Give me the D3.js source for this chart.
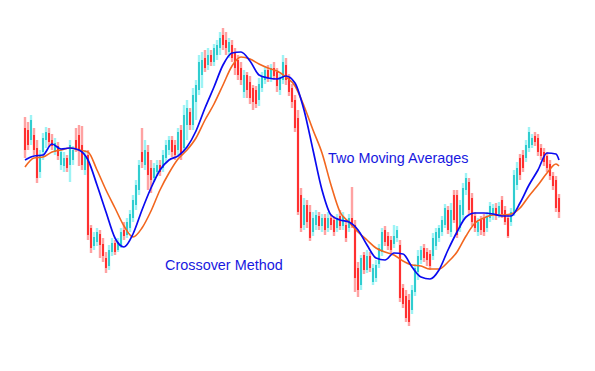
<!DOCTYPE html>
<html>
<head>
<meta charset="utf-8">
<script src="https://cdn.jsdelivr.net/npm/d3@7"></script>
<style>
  html, body { margin: 0; padding: 0; background: #ffffff; }
  svg { display: block; }
</style>
</head>
<body>
<svg id="chart" width="595" height="371"></svg>
<script>
// ---- Candle data (arbitrary price units), one candle per bar ----
const opens = [222,220,210,215,202,178,198,210,217,210,198,204,185,184,192,185,190,210,215,205,180,195,122,104,108,116,106,92,84,98,107,100,105,120,115,122,132,145,160,198,185,198,182,172,178,185,182,192,200,210,205,200,220,202,225,238,225,248,260,275,292,285,295,288,295,302,315,310,298,305,298,290,282,258,275,268,262,260,250,262,270,280,272,282,278,260,270,285,272,262,250,232,155,125,145,138,118,125,134,124,132,122,132,130,122,134,124,125,122,132,125,82,65,95,80,94,68,72,86,98,120,114,110,106,112,105,62,54,50,40,58,78,90,102,98,96,94,104,112,118,125,140,118,155,155,122,135,160,168,152,134,118,130,132,122,132,135,142,136,150,140,132,128,138,165,192,195,192,202,205,214,212,202,198,194,186,174,170,152];
const highs = [233,228,235,222,210,200,217,223,222,216,212,208,202,198,195,210,204,222,225,224,200,200,125,118,122,120,112,98,105,112,110,112,122,128,132,140,155,170,190,222,210,205,190,187,190,190,200,210,214,214,210,222,225,245,250,242,262,270,295,298,300,302,300,306,310,318,322,318,312,310,302,295,288,280,278,274,265,264,272,278,284,285,286,288,282,276,295,292,276,266,255,240,162,152,150,145,138,140,138,136,136,138,136,134,136,140,138,130,136,163,130,88,95,98,100,98,86,90,106,122,124,118,114,125,124,110,66,60,56,65,86,100,104,106,102,100,117,122,125,134,146,144,147,160,160,150,167,177,172,157,138,132,134,136,138,148,146,147,148,154,144,136,142,180,188,196,200,210,223,216,218,216,206,202,198,190,178,174,156];
const lows = [192,200,205,195,167,172,190,202,203,200,195,190,180,178,178,168,185,198,184,180,175,110,97,100,104,92,88,77,80,94,95,98,102,110,112,118,128,140,155,182,180,160,157,168,174,174,178,188,195,193,190,195,190,198,210,220,220,230,255,262,278,280,284,284,290,295,300,295,292,288,275,270,265,252,252,246,240,242,244,258,266,268,268,270,258,255,266,265,254,242,218,135,118,120,122,109,114,120,120,118,115,118,120,114,118,120,120,108,118,122,58,53,60,76,77,78,65,68,82,94,104,100,96,102,108,48,42,28,24,36,54,70,86,88,84,80,90,100,108,114,122,116,113,127,112,118,130,155,136,124,118,114,115,114,118,128,130,130,132,132,125,112,124,134,160,170,178,188,198,202,204,194,190,184,178,170,160,138,132];
const closes = [200,205,230,200,172,195,212,218,208,204,207,194,198,192,182,205,200,202,200,185,195,115,102,113,118,105,94,82,100,107,98,108,118,114,128,136,150,165,185,188,200,175,170,182,185,178,195,205,210,198,195,218,195,235,242,225,255,265,288,290,282,295,288,302,305,312,305,302,308,292,282,275,270,275,260,252,248,246,266,274,280,272,282,274,264,272,288,270,258,248,222,138,122,145,128,112,132,135,124,132,120,132,125,118,132,124,134,112,132,124,72,60,92,80,94,82,82,85,102,118,108,104,100,114,120,52,46,32,28,60,82,94,100,92,90,84,112,118,122,130,142,120,140,130,115,145,162,172,140,128,122,128,120,118,134,144,142,134,144,136,128,114,138,175,182,175,182,205,218,212,208,198,194,188,182,174,164,142,138];

// ---- Moving averages, sampled at every third candle (plus the last) ----
const maIndex = d3.range(0, 178, 3).concat([178]);
const fastMA = [190,194,195,206,201,202,200,190,165,138,112,103,116,140,162,180,190,194,203,219,242,263,285,297,298,289,275,272,271,274,267,240,200,160,135,130,128,120,105,92,90,97,96,83,73,71,80,100,118,133,137,137,136,134,134,147,165,180,197,196,190];
const slowMA = [183,192,193,198,200,202,200,198,180,160,142,124,113,122,139,160,177,191,200,212,230,246,265,284,293,291,286,282,279,273,264,244,220,197,165,138,128,118,110,102,98,95,89,85,84,81,81,88,98,114,127,132,135,135,136,142,154,165,177,186,184];

// ---- Annotations ----
const labels = [
  { text: "Two Moving Averages", idx: 101, price: 187 },
  { text: "Crossover Method", idx: 46.7, price: 80 }
];

const candles = opens.map((o, i) => ({ i, o, h: highs[i], l: lows[i], c: closes[i] }));

const svg = d3.select("#chart");
const x = d3.scaleLinear().domain([0, opens.length - 1]).range([25, 559]);
const y = d3.scaleLinear().domain([20, 330]).range([330, 20]);

const upBody = "#14c4c8", upWick = "#9ef3f5";
const dnBody = "#ff1414", dnWick = "#ffa2a2";

const g = svg.append("g");

g.selectAll("rect.wick").data(candles).enter().append("rect")
  .attr("class", "wick")
  .attr("x", d => x(d.i) - 1.2)
  .attr("width", 2.4)
  .attr("y", d => y(d.h))
  .attr("height", d => Math.max(1, y(d.l) - y(d.h)))
  .attr("fill", d => d.c >= d.o ? upWick : dnWick);

g.selectAll("rect.body").data(candles).enter().append("rect")
  .attr("class", "body")
  .attr("x", d => x(d.i) - 0.8)
  .attr("width", 1.6)
  .attr("y", d => y(Math.max(d.o, d.c)))
  .attr("height", d => Math.max(1, Math.abs(y(d.o) - y(d.c))))
  .attr("fill", d => d.c >= d.o ? upBody : dnBody);

const line = d3.line()
  .x(d => x(d[0]))
  .y(d => y(d[1]))
  .curve(d3.curveMonotoneX);

svg.append("path")
  .datum(maIndex.map((k, j) => [k, slowMA[j]]))
  .attr("d", line)
  .attr("fill", "none")
  .attr("stroke", "#f2661e")
  .attr("stroke-width", 1.6);

svg.append("path")
  .datum(maIndex.map((k, j) => [k, fastMA[j]]))
  .attr("d", line)
  .attr("fill", "none")
  .attr("stroke", "#0a0af0")
  .attr("stroke-width", 1.7);

svg.selectAll("text.lbl").data(labels).enter().append("text")
  .attr("class", "lbl")
  .attr("x", d => x(d.idx))
  .attr("y", d => y(d.price))
  .attr("font-family", "Liberation Sans, Arial, sans-serif")
  .attr("font-size", 14.4)
  .attr("fill", "#1818e0")
  .text(d => d.text);
</script>
</body>
</html>
